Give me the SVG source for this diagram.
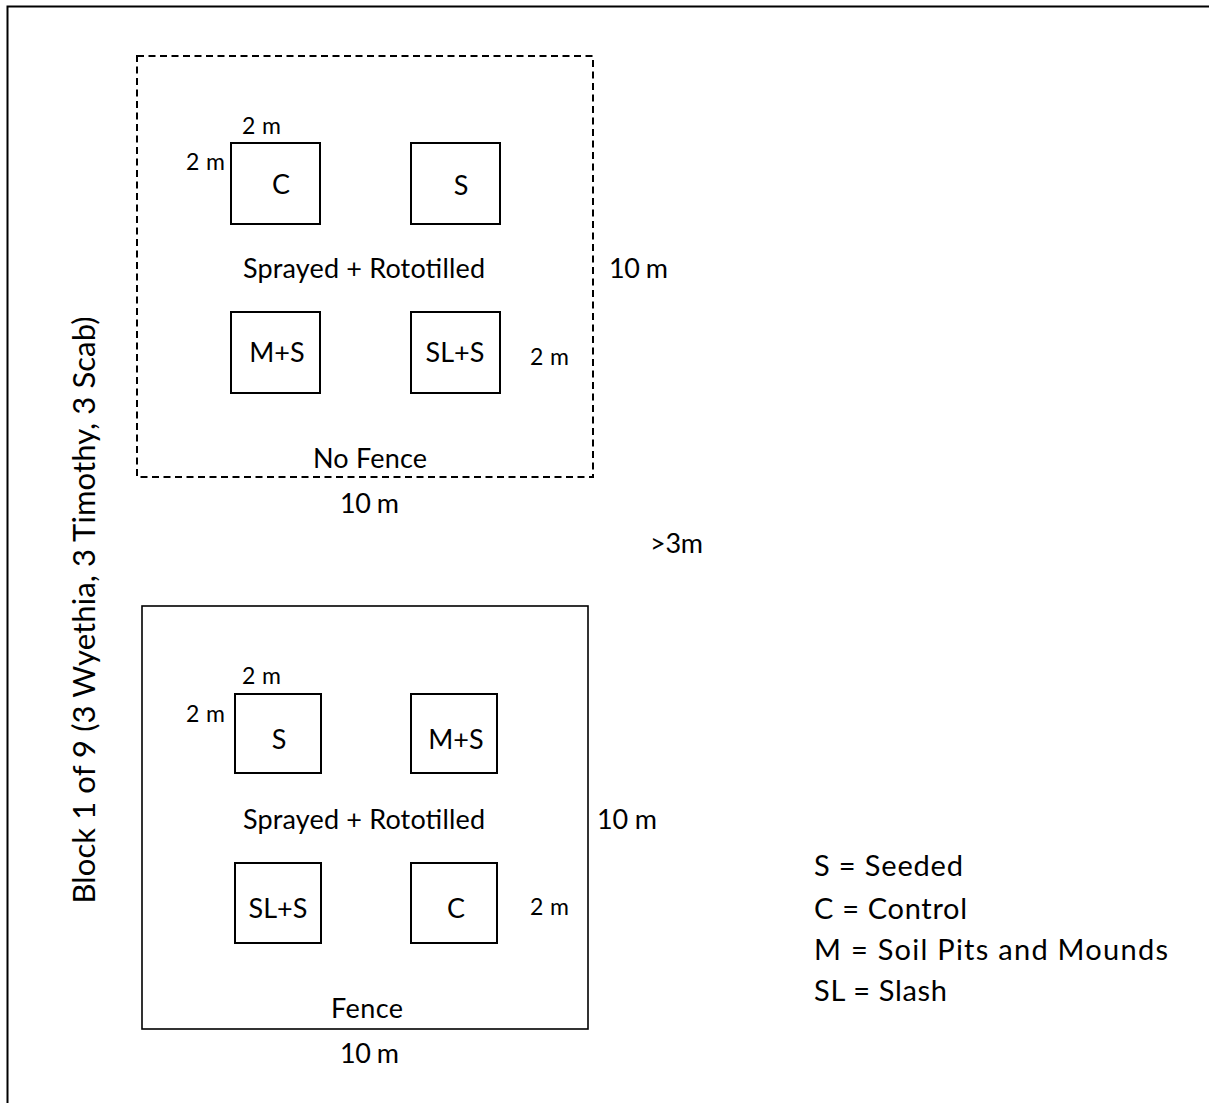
<svg xmlns="http://www.w3.org/2000/svg" width="1209" height="1103" viewBox="0 0 1209 1103">
<style>
text{font-family:Lato,"Liberation Sans",sans-serif;fill:#000}
.big{font-size:27px}
.sm{font-size:23px}
.lab{font-size:27px;text-anchor:middle}
.leg{font-size:29px}
.vert{font-size:31px;text-anchor:middle}
.sub{fill:none;stroke:#000;stroke-width:2}
.dash{fill:none;stroke:#000;stroke-width:2;stroke-dasharray:7 4.5}
.solid{fill:none;stroke:#000;stroke-width:1.6}
</style>
<rect width="1209" height="1103" fill="#fff"/>
<path id="frame" d="M7.5,1110 V6.5 H1215" fill="none" stroke="#000" stroke-width="2"/>
<text class="vert" transform="translate(95,610) rotate(-90)" textLength="587">Block 1 of 9 (3 Wyethia, 3 Timothy, 3 Scab)</text>
<g id="plot-nofence">
<rect class="dash" x="137" y="56" width="456" height="421"/>
<text class="sm" x="242" y="134" textLength="39">2 m</text>
<text class="sm" x="186" y="170" textLength="39">2 m</text>
<text class="big" x="243" y="278" textLength="242">Sprayed + Rototilled</text>
<text class="sm" x="530" y="365" textLength="39">2 m</text>
<text class="big" x="313" y="468" textLength="114">No Fence</text>
</g>
<g id="nf-C"><rect class="sub" x="231" y="143" width="89" height="81"/><text class="lab" x="281" y="194">C</text></g>
<g id="nf-S"><rect class="sub" x="411" y="143" width="89" height="81"/><text class="lab" x="461" y="195">S</text></g>
<g id="nf-MS"><rect class="sub" x="231" y="312" width="89" height="81"/><text class="lab" x="277" y="362">M+S</text></g>
<g id="nf-SLS"><rect class="sub" x="411" y="312" width="89" height="81"/><text class="lab" x="455" y="362">SL+S</text></g>
<g id="dims-top">
<text class="big" x="609" y="278" textLength="59">10 m</text>
<text class="big" x="340" y="513" textLength="59">10 m</text>
</g>
<text id="gap" class="big" x="650" y="553" textLength="53">&gt;3m</text>
<g id="plot-fence">
<rect class="solid" x="142" y="606" width="446" height="423"/>
<text class="sm" x="242" y="684" textLength="39">2 m</text>
<text class="sm" x="186" y="722" textLength="39">2 m</text>
<text class="big" x="243" y="829" textLength="242">Sprayed + Rototilled</text>
<text class="sm" x="530" y="915" textLength="39">2 m</text>
<text class="big" x="331" y="1018" textLength="72">Fence</text>
</g>
<g id="f-S"><rect class="sub" x="235" y="694" width="86" height="79"/><text class="lab" x="279" y="749">S</text></g>
<g id="f-MS"><rect class="sub" x="411" y="694" width="86" height="79"/><text class="lab" x="456" y="749">M+S</text></g>
<g id="f-SLS"><rect class="sub" x="235" y="863" width="86" height="80"/><text class="lab" x="278" y="918">SL+S</text></g>
<g id="f-C"><rect class="sub" x="411" y="863" width="86" height="80"/><text class="lab" x="456" y="918">C</text></g>
<g id="dims-bottom">
<text class="big" x="597" y="829" textLength="60">10 m</text>
<text class="big" x="340" y="1063" textLength="59">10 m</text>
</g>
<g id="legend">
<text class="leg" x="814" y="876" textLength="149">S = Seeded</text>
<text class="leg" x="814" y="919" textLength="153">C = Control</text>
<text class="leg" x="814" y="960" textLength="354">M = Soil Pits and Mounds</text>
<text class="leg" x="814" y="1001" textLength="133">SL = Slash</text>
</g>
<g id="connectors"></g>
</svg>
